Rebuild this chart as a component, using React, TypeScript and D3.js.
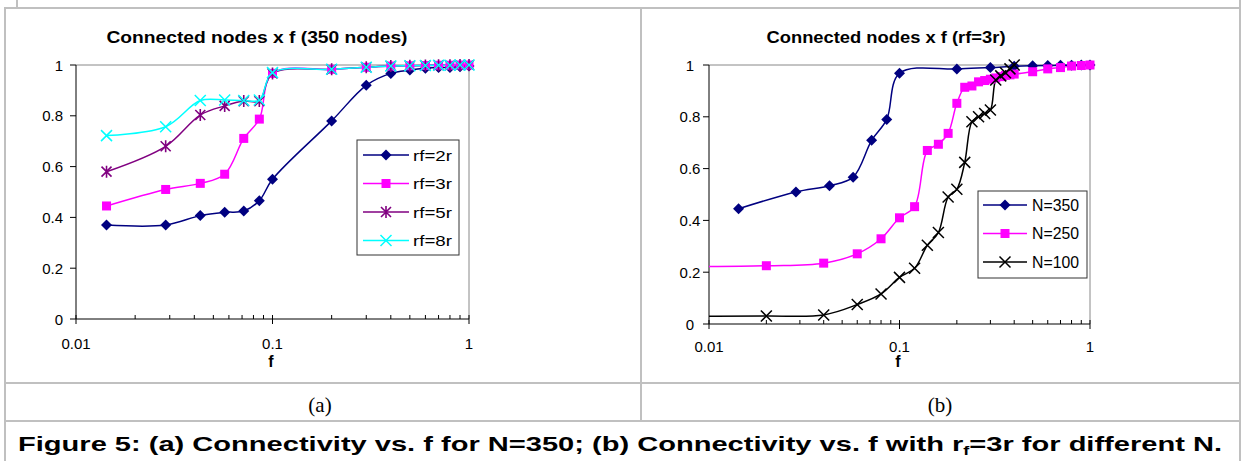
import React from "react";
import * as d3 from "d3";

// left chart: connected nodes vs f for 350 nodes
const fLeft = [0.0143, 0.0286, 0.0429, 0.0571, 0.0714, 0.0857, 0.1, 0.2, 0.3, 0.4, 0.5, 0.6, 0.7, 0.8, 0.9, 1.0];
const rf2r = [0.37, 0.37, 0.407, 0.42, 0.425, 0.466, 0.55, 0.78, 0.92, 0.967, 0.98, 0.987, 0.99, 0.99, 0.993, 0.996];
const rf3r = [0.445, 0.51, 0.534, 0.57, 0.711, 0.787, 0.967, 0.983, 0.991, 0.996, 0.997, 0.998, 0.999, 0.999, 1, 1];
const rf5r = [0.58, 0.68, 0.803, 0.839, 0.858, 0.858, 0.967, 0.983, 0.991, 0.996, 0.997, 0.998, 0.999, 0.999, 1, 1];
const rf8r = [0.722, 0.757, 0.86, 0.862, 0.86, 0.862, 0.97, 0.983, 0.991, 0.996, 0.997, 0.998, 0.999, 0.999, 1, 1];

// right chart: rf = 3r, different N
const fN350 = [0.0143, 0.0286, 0.0429, 0.0571, 0.0714, 0.0857, 0.1, 0.2, 0.3, 0.4, 0.5, 0.6, 0.7, 0.8, 0.9, 1.0];
const n350 = [0.445, 0.51, 0.534, 0.567, 0.709, 0.79, 0.968, 0.985, 0.99, 0.995, 0.997, 0.998, 0.999, 0.999, 1, 1];
const fN250 = [0.004, 0.02, 0.04, 0.06, 0.08, 0.1, 0.12, 0.14, 0.16, 0.18, 0.2, 0.22, 0.24, 0.26, 0.28, 0.3, 0.32, 0.34, 0.36, 0.38, 0.4, 0.5, 0.6, 0.7, 0.8, 0.9, 1.0];
const n250 = [0.221, 0.225, 0.235, 0.271, 0.329, 0.41, 0.453, 0.67, 0.694, 0.736, 0.852, 0.914, 0.919, 0.935, 0.94, 0.945, 0.95, 0.955, 0.96, 0.962, 0.965, 0.974, 0.985, 0.99, 0.996, 0.998, 1.0];
const fN100 = [0.005, 0.02, 0.04, 0.06, 0.08, 0.1, 0.12, 0.14, 0.16, 0.18, 0.2, 0.22, 0.24, 0.26, 0.28, 0.3, 0.32, 0.34, 0.36, 0.38, 0.4];
const n100 = [0.03, 0.031, 0.035, 0.075, 0.116, 0.18, 0.215, 0.304, 0.353, 0.49, 0.52, 0.624, 0.781, 0.8, 0.813, 0.826, 0.942, 0.958, 0.97, 0.985, 1.0];

const yTicks = [0, 0.2, 0.4, 0.6, 0.8, 1];
const yTickLabels = ["0", "0.2", "0.4", "0.6", "0.8", "1"];
const xTicks = [0.01, 0.1, 1];
const xTickLabels = ["0.01", "0.1", "1"];

const FONT = "'Liberation Sans', Arial, sans-serif";

function Marker({ type, x, y, color }) {
  if (type === "diamond") {
    return <path d={`M${x},${y - 5.5}L${x + 5.5},${y}L${x},${y + 5.5}L${x - 5.5},${y}Z`} fill={color} />;
  }
  if (type === "square") {
    return <rect x={x - 4.5} y={y - 4.5} width={9} height={9} fill={color} />;
  }
  if (type === "star") {
    const s = 5;
    return (
      <path
        d={`M${x - s},${y - s}L${x + s},${y + s}M${x - s},${y + s}L${x + s},${y - s}M${x},${y - s - 1}L${x},${y + s + 1}`}
        stroke={color}
        strokeWidth={1.6}
      />
    );
  }
  const s = 5.5;
  return <path d={`M${x - s},${y - s}L${x + s},${y + s}M${x - s},${y + s}L${x + s},${y - s}`} stroke={color} strokeWidth={1.5} />;
}

function Chart({ id, cfg, series }) {
  const x = d3.scaleLog().domain([0.01, 1]).range([cfg.x0, cfg.x1]);
  const y = d3.scaleLinear().domain([0, 1]).range([cfg.yBot, cfg.yTop]);
  const line = d3
    .line<[number, number]>()
    .x((d) => x(d[0]))
    .y((d) => y(d[1]))
    .curve(d3.curveCatmullRom.alpha(0.5));

  const minor: number[] = [];
  [0.01, 0.1].forEach((dec) => {
    for (let k = 2; k <= 9; k++) minor.push(dec * k);
  });

  return (
    <g>
      <defs>
        <clipPath id={id}>
          <rect x={cfg.x0} y={cfg.yTop - 12} width={cfg.x1 - cfg.x0} height={cfg.yBot - cfg.yTop + 24} />
        </clipPath>
      </defs>
      <text
        x={cfg.titleX}
        y={43}
        textAnchor="middle"
        fontFamily={FONT}
        fontWeight="bold"
        fontSize={17}
        textLength={cfg.titleW}
        lengthAdjust="spacingAndGlyphs"
      >
        {cfg.title}
      </text>

      {/* plot frame: gray top/right, black axes */}
      <path d={`M${cfg.x0},${cfg.yTop}H${cfg.x1}V${cfg.yBot}`} fill="none" stroke="#888" strokeWidth={1} />
      <line x1={cfg.x0} x2={cfg.x0} y1={cfg.yTop} y2={cfg.yBot} stroke="#000" />
      <line x1={cfg.x0} x2={cfg.x1} y1={cfg.yBot} y2={cfg.yBot} stroke="#000" />

      {yTicks.map((t, i) => (
        <g key={t}>
          <line x1={cfg.x0 - 6} x2={cfg.x0} y1={y(t)} y2={y(t)} stroke="#000" />
          <text
            x={cfg.yLabelX}
            y={y(t) + 5.5}
            textAnchor={cfg.yLabelAnchor}
            fontFamily={FONT}
            fontSize={15}
          >
            {yTickLabels[i]}
          </text>
        </g>
      ))}
      {minor.map((t) => (
        <line key={t} x1={x(t)} x2={x(t)} y1={cfg.yBot - 4} y2={cfg.yBot} stroke="#000" />
      ))}
      {xTicks.map((t, i) => (
        <g key={t}>
          <line x1={x(t)} x2={x(t)} y1={cfg.yBot - 4} y2={cfg.yBot + 5} stroke="#000" />
          <text x={x(t)} y={cfg.yBot + cfg.xLabelDy} textAnchor="middle" fontFamily={FONT} fontSize={15}>
            {xTickLabels[i]}
          </text>
        </g>
      ))}
      <text x={cfg.fX} y={367} textAnchor="middle" fontFamily={FONT} fontWeight="bold" fontSize={16}>
        f
      </text>

      <g clipPath={`url(#${id})`}>
        {series.map((s) => (
          <path
            key={s.name}
            d={line(s.f.map((f, i) => [f, s.v[i]]))}
            fill="none"
            stroke={s.color}
            strokeWidth={1.5}
          />
        ))}
      </g>
      {series.map((s) => (
        <g key={s.name}>
          {s.f.map((f, i) =>
            f >= 0.01 ? <Marker key={i} type={s.marker} x={x(f)} y={y(s.v[i])} color={s.color} /> : null
          )}
        </g>
      ))}

      <rect
        x={cfg.lg.x}
        y={cfg.lg.y}
        width={cfg.lg.w}
        height={cfg.lg.h}
        fill="#fff"
        stroke="#333"
        strokeWidth={1}
      />
      {series.map((s, i) => {
        const ry = cfg.lg.row0 + i * cfg.lg.step;
        return (
          <g key={s.name}>
            <line x1={cfg.lg.l1} x2={cfg.lg.l2} y1={ry} y2={ry} stroke={s.color} strokeWidth={1.5} />
            <Marker type={s.marker} x={(cfg.lg.l1 + cfg.lg.l2) / 2} y={ry} color={s.color} />
            <text
              x={cfg.lg.tx}
              y={ry + cfg.lg.fs * 0.36}
              fontFamily={FONT}
              fontSize={cfg.lg.fs}
              textLength={cfg.lg.tw}
              lengthAdjust="spacingAndGlyphs"
            >
              {s.name}
            </text>
          </g>
        );
      })}
    </g>
  );
}

const leftCfg = {
  x0: 76, x1: 469, yTop: 65, yBot: 319, xLabelDy: 29.5,
  title: "Connected nodes x f (350 nodes)", titleX: 257, titleW: 301,
  yLabelX: 63, yLabelAnchor: "end", fX: 271,
  lg: { x: 357, y: 140, w: 102, h: 115, row0: 155, step: 28.5, l1: 363, l2: 409, tx: 413, tw: 39, fs: 15.5 },
};

const rightCfg = {
  x0: 709, x1: 1090, yTop: 65, yBot: 324, xLabelDy: 27.5,
  title: "Connected nodes x f (rf=3r)", titleX: 886, titleW: 239,
  yLabelX: 690, yLabelAnchor: "middle", fX: 898,
  lg: { x: 978, y: 191, w: 109, h: 87, row0: 205, step: 28.5, l1: 983, l2: 1027, tx: 1032, tw: 47, fs: 16.5 },
};

export default function App() {
  const leftSeries = [
    { name: "rf=2r", f: fLeft, v: rf2r, color: "#000080", marker: "diamond" },
    { name: "rf=3r", f: fLeft, v: rf3r, color: "#FF00FF", marker: "square" },
    { name: "rf=5r", f: fLeft, v: rf5r, color: "#800080", marker: "star" },
    { name: "rf=8r", f: fLeft, v: rf8r, color: "#00FFFF", marker: "x" },
  ];
  const rightSeries = [
    { name: "N=350", f: fN350, v: n350, color: "#000080", marker: "diamond" },
    { name: "N=250", f: fN250, v: n250, color: "#FF00FF", marker: "square" },
    { name: "N=100", f: fN100, v: n100, color: "#000000", marker: "x" },
  ];
  const border = "#c0c0c0";
  return (
    <svg
      width={1241}
      height={461}
      style={{ position: "absolute", left: 0, top: 0, background: "#fff" }}
    >
      <rect width={1241} height={461} fill="#fff" />
      {/* table grid */}
      <g stroke={border} strokeWidth={2}>
        <line x1={17} x2={17} y1={0} y2={8} />
        <line x1={4} x2={1241} y1={8} y2={8} />
        <line x1={5} x2={5} y1={8} y2={461} />
        <line x1={1240} x2={1240} y1={0} y2={461} />
        <line x1={641} x2={641} y1={8} y2={421} />
        <line x1={4} x2={1241} y1={383} y2={383} />
        <line x1={4} x2={1241} y1={421} y2={421} />
      </g>
      <Chart id="clipL" cfg={leftCfg} series={leftSeries} />
      <Chart id="clipR" cfg={rightCfg} series={rightSeries} />
      <text x={320} y={412} textAnchor="middle" fontFamily="'Liberation Serif', 'Times New Roman', serif" fontSize={21}>
        (a)
      </text>
      <text x={940} y={412} textAnchor="middle" fontFamily="'Liberation Serif', 'Times New Roman', serif" fontSize={21}>
        (b)
      </text>
      <text
        x={620}
        y={451}
        textAnchor="middle"
        fontFamily={FONT}
        fontWeight="bold"
        fontSize={21}
        textLength={1204}
        lengthAdjust="spacingAndGlyphs"
      >
        Figure 5: (a) Connectivity vs. f for N=350; (b) Connectivity vs. f with r
        <tspan fontSize={13} dy={4}>f</tspan>
        <tspan dy={-4}>=3r for different N.</tspan>
      </text>
    </svg>
  );
}
